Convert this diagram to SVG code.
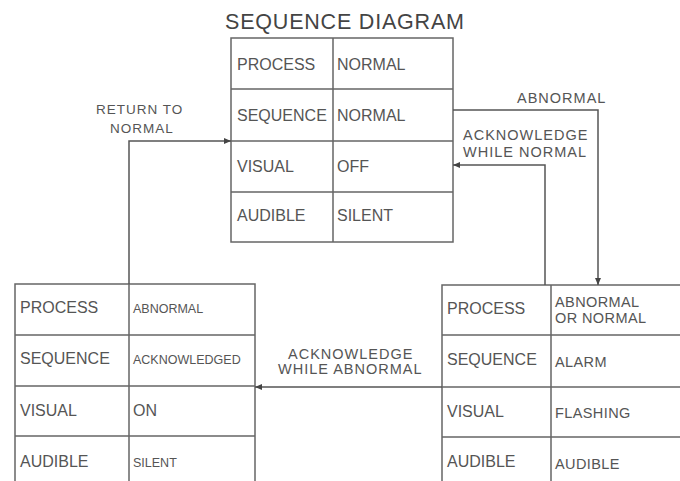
<svg xmlns="http://www.w3.org/2000/svg" width="680" height="481" viewBox="0 0 680 481">
<style>
  .grid{fill:none;stroke:#666;stroke-width:1.5}
  .conn{fill:none;stroke:#555;stroke-width:1.5}
  .cell{font-family:"Liberation Sans",Arial,sans-serif;font-size:16px;fill:#555}
  .small{font-family:"Liberation Sans",Arial,sans-serif;font-size:12.5px;fill:#555}
  .mid{font-family:"Liberation Sans",Arial,sans-serif;font-size:14.5px;letter-spacing:0.4px;fill:#555}
  .lbl{font-family:"Liberation Sans",Arial,sans-serif;font-size:14.5px;letter-spacing:1px;fill:#555}
  .lbl13{font-family:"Liberation Sans",Arial,sans-serif;font-size:13.5px;letter-spacing:1px;fill:#555}
  .title{font-family:"Liberation Sans",Arial,sans-serif;font-size:21.5px;letter-spacing:0.8px;fill:#444}
</style>
<defs>
  <marker id="arr" markerUnits="userSpaceOnUse" markerWidth="8" markerHeight="8" refX="7" refY="4" orient="auto">
    <path d="M0,1 L7,4 L0,7 Z" fill="#444"/>
  </marker>
</defs>
<rect width="680" height="481" fill="#fff"/>
<text class="title" x="225" y="29">SEQUENCE DIAGRAM</text>

<g id="normal">
  <rect class="grid" x="231" y="38" width="222" height="204"/>
  <path class="grid" d="M333,38 V242 M231,89 H453 M231,141 H453 M231,192 H453"/>
  <text class="cell" x="237" y="70">PROCESS</text>
  <text class="cell" x="337" y="70">NORMAL</text>
  <text class="cell" x="237" y="121">SEQUENCE</text>
  <text class="cell" x="337" y="121">NORMAL</text>
  <text class="cell" x="237" y="172">VISUAL</text>
  <text class="cell" x="337" y="172">OFF</text>
  <text class="cell" x="237" y="221">AUDIBLE</text>
  <text class="cell" x="337" y="221">SILENT</text>
</g>

<g id="acknowledged">
  <path class="grid" d="M15,490 V284 H255 V490 M129,284 V490 M15,335 H255 M15,386 H255 M15,436 H255"/>
  <text class="cell" x="20" y="313">PROCESS</text>
  <text class="small" x="133" y="313">ABNORMAL</text>
  <text class="cell" x="20" y="364">SEQUENCE</text>
  <text class="small" x="133" y="364">ACKNOWLEDGED</text>
  <text class="cell" x="20" y="416">VISUAL</text>
  <text class="cell" x="133" y="416">ON</text>
  <text class="cell" x="20" y="467">AUDIBLE</text>
  <text class="small" x="133" y="467">SILENT</text>
</g>

<g id="alarm">
  <path class="grid" d="M442,490 V285 H690 M551,285 V490 M442,335 H690 M442,387 H690 M442,437 H690"/>
  <text class="cell" x="447" y="314">PROCESS</text>
  <text class="mid" x="555" y="307">ABNORMAL</text>
  <text class="mid" x="555" y="323">OR NORMAL</text>
  <text class="cell" x="447" y="365">SEQUENCE</text>
  <text class="mid" x="555" y="367">ALARM</text>
  <text class="cell" x="447" y="417">VISUAL</text>
  <text class="mid" x="555" y="418">FLASHING</text>
  <text class="cell" x="447" y="467">AUDIBLE</text>
  <text class="mid" x="555" y="469">AUDIBLE</text>
</g>

<g id="connectors">
  <path class="conn" d="M129,284 V141 H231" marker-end="url(#arr)"/>
  <path class="conn" d="M453,110 H598 V285" marker-end="url(#arr)"/>
  <path class="conn" d="M545,285 V165 H453" marker-end="url(#arr)"/>
  <path class="conn" d="M442,387 H255" marker-end="url(#arr)"/>
  <text class="lbl13" x="96" y="114">RETURN TO</text>
  <text class="lbl13" x="110" y="133">NORMAL</text>
  <text class="lbl" x="517" y="103">ABNORMAL</text>
  <text class="lbl" x="463" y="140">ACKNOWLEDGE</text>
  <text class="lbl" x="463" y="157">WHILE NORMAL</text>
  <text class="lbl" x="288" y="359">ACKNOWLEDGE</text>
  <text class="lbl" x="278" y="374">WHILE ABNORMAL</text>
</g>
</svg>
